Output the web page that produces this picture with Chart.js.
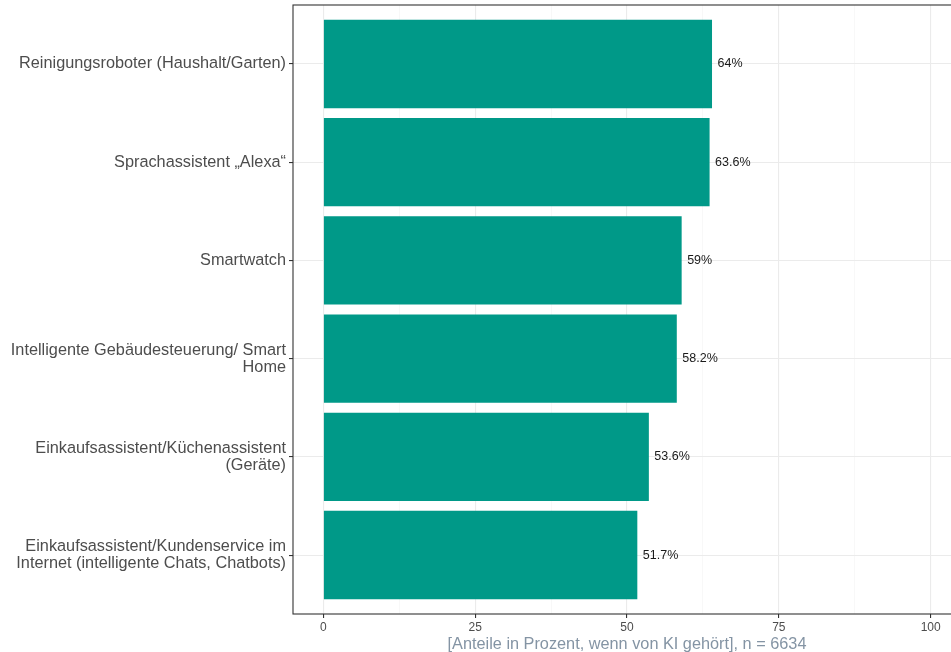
<!DOCTYPE html>
<html><head><meta charset="utf-8">
<script src="https://cdn.jsdelivr.net/npm/chart.js@4"></script>
<style>html,body{margin:0;padding:0;background:#fff;overflow:hidden}#wrap{width:961px;height:652px}</style>
</head><body><div id="wrap"><canvas id="c"></canvas></div>
<script>
const categories = [
  ["Reinigungsroboter (Haushalt/Garten)"],
  ["Sprachassistent „Alexa“"],
  ["Smartwatch"],
  ["Intelligente Gebäudesteuerung/ Smart", "Home"],
  ["Einkaufsassistent/Küchenassistent", "(Geräte)"],
  ["Einkaufsassistent/Kundenservice im", "Internet (intelligente Chats, Chatbots)"]
];
const values = [64, 63.6, 59, 58.2, 53.6, 51.7];
const valueLabels = ["64%", "63.6%", "59%", "58.2%", "53.6%", "51.7%"];
const xTickLabels = {0: "0", 25: "25", 50: "50", 75: "75", 100: "100"};
const xTitle = "[Anteile in Prozent, wenn von KI gehört], n = 6634";

const FONT = "'Liberation Sans', Arial, Helvetica, sans-serif";

const borderPlugin = {
  id: 'panelBorder',
  afterDraw(chart) {
    const a = chart.chartArea, ctx = chart.ctx;
    ctx.save();
    ctx.strokeStyle = '#333333';
    ctx.lineWidth = 1.1;
    ctx.strokeRect(a.left, a.top, a.right - a.left, a.bottom - a.top);
    ctx.restore();
  }
};
const labelPlugin = {
  id: 'valueLabels',
  afterDatasetsDraw(chart) {
    const ctx = chart.ctx;
    const meta = chart.getDatasetMeta(0);
    ctx.save();
    ctx.font = "12.5px " + FONT;
    ctx.fillStyle = '#1a1a1a';
    ctx.textAlign = 'left';
    ctx.textBaseline = 'middle';
    meta.data.forEach((bar, i) => {
      ctx.fillText(valueLabels[i], bar.x + 5.5, bar.y);
    });
    ctx.restore();
  }
};

new Chart(document.getElementById('c'), {
  type: 'bar',
  data: {
    datasets: [{
      data: values.map((v, i) => ({x: v, y: i})),
      backgroundColor: '#009988',
      borderWidth: 0,
      barPercentage: 0.9,
      categoryPercentage: 1.0
    }]
  },
  options: {
    indexAxis: 'y',
    responsive: true,
    maintainAspectRatio: false,
    animation: false,
    layout: {padding: {top: 5, right: 0, bottom: 0, left: 0}},
    plugins: {legend: {display: false}, tooltip: {enabled: false}},
    scales: {
      x: {
        type: 'linear',
        min: -5, max: 105,
        afterBuildTicks(scale) {
          const t = [];
          for (let v = 0; v <= 100; v += 12.5) t.push({value: v});
          scale.ticks = t;
        },
        afterFit(scale) { scale.height = 38; scale.paddingLeft = 0; scale.paddingRight = 0; },
        border: {display: false},
        grid: {
          color: (c) => (c.tick && c.tick.value % 25 === 0) ? '#EBEBEB' : '#F4F4F4',
          lineWidth: (c) => (c.tick && c.tick.value % 25 === 0) ? 1.1 : 0.6,
          tickColor: (c) => (c.tick && c.tick.value % 25 === 0) ? '#333333' : 'rgba(0,0,0,0)',
          tickLength: 4,
          tickWidth: 1.1
        },
        ticks: {
          autoSkip: false,
          maxRotation: 0,
          padding: 2,
          color: '#4D4D4D',
          font: {family: FONT, size: 12},
          callback: (v) => (xTickLabels[v] !== undefined ? xTickLabels[v] : '')
        },
        title: {
          display: true,
          text: xTitle,
          color: '#8494A4',
          font: {family: FONT, size: 16.3, lineHeight: 1},
          padding: {top: 0, bottom: -1}
        }
      },
      y: {
        type: 'linear',
        reverse: true,
        offset: false,
        min: -0.6, max: 5.6,
        afterBuildTicks(scale) {
          scale.ticks = categories.map((_, i) => ({value: i}));
        },
        afterFit(scale) { scale.width = 293; scale.paddingTop = 0; scale.paddingBottom = 0; },
        border: {display: false},
        grid: {
          offset: false,
          color: '#EBEBEB',
          lineWidth: 1.1,
          tickColor: '#333333',
          tickLength: 4,
          tickWidth: 1.1
        },
        ticks: {
          autoSkip: false,
          padding: 3,
          color: '#4D4D4D',
          font: {family: FONT, size: 16.3, lineHeight: 1.05},
          callback: (v) => categories[v] || ''
        }
      }
    }
  },
  plugins: [borderPlugin, labelPlugin]
});
</script>
</body></html>
